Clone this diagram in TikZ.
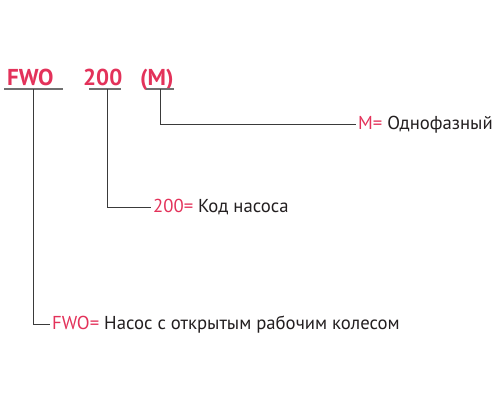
\documentclass[tikz,border=0pt]{standalone}
\usepackage{fontspec}
\setmainfont{PT Sans}
\definecolor{codered}{HTML}{E3325A}
\definecolor{txt}{HTML}{231F20}
\definecolor{uline}{HTML}{707070}
\definecolor{conn}{HTML}{3A3A3A}
\begin{document}
\begin{tikzpicture}[x=1pt,y=-1pt,
  code/.style={text=codered,font=\bfseries\fontsize{23}{23}\selectfont,inner sep=0pt,anchor=base west},
  desc/.style={text=txt,font=\fontsize{18.7}{18.7}\selectfont,inner sep=2pt,anchor=west},
  ul/.style={draw=uline,line width=1.6pt},
  connector/.style={draw=conn,line width=1pt}]
\useasboundingbox (0,0) rectangle (500,400);
% codes
\node[code] (fwo) at (7,85) {FWO};
\node[code] (num) at (83,85) {200};
\node[code] (mot) at (140,85) {(M)};
% underlines
\coordinate (a1) at (4,89);   \coordinate (a2) at (63,89);
\coordinate (b1) at (89,89);  \coordinate (b2) at (121,89);
\coordinate (c1) at (146,89); \coordinate (c2) at (174,89);
\draw[ul] (a1) -- (a2);
\draw[ul] (b1) -- (b2);
\draw[ul] (c1) -- (c2);
\coordinate (ua) at (33.5,89);
\coordinate (ub) at (107,89);
\coordinate (uc) at (160.5,89);
% descriptions
\node[desc] (dm) at (356,124.5) {\textcolor{codered}{M=} Однофазный};
\node[desc] (dn) at (151,207) {\textcolor{codered}{200=} Код насоса};
\node[desc] (df) at (50,324.5) {\textcolor{codered}{FWO=} Насос с открытым рабочим колесом};
% connectors
\draw[connector] (uc) |- (dm.west);
\draw[connector] (ub) |- (dn.west);
\draw[connector] (ua) |- (df.west);
\end{tikzpicture}
\end{document}
